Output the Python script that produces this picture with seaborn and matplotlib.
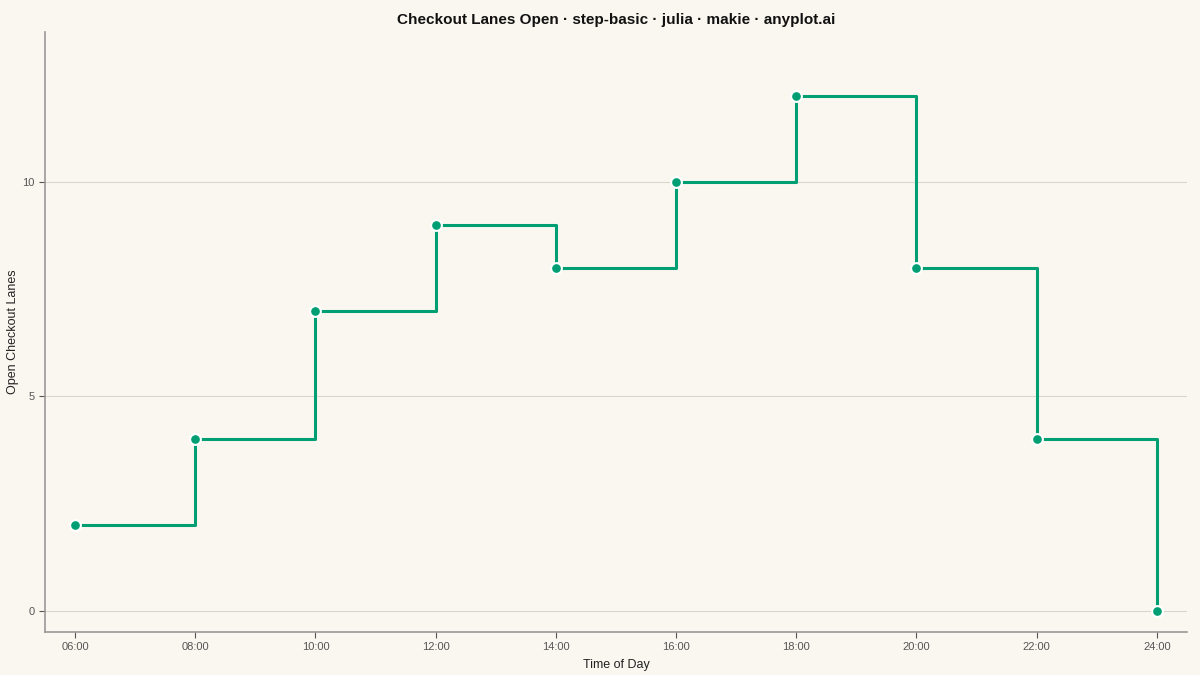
import pandas as pd
import matplotlib
matplotlib.use("Agg")
import matplotlib.pyplot as plt
import seaborn as sns

# Datos: carriles abiertos por hora del día
hours = [6, 8, 10, 12, 14, 16, 18, 20, 22, 24]
lanes_open = [2, 4, 7, 9, 8, 10, 12, 8, 4, 0]
tick_labels = ["06:00", "08:00", "10:00", "12:00", "14:00",
               "16:00", "18:00", "20:00", "22:00", "24:00"]

bg = "#FAF7F0"
green = "#009E73"

sns.set_theme(style="white")
plt.rcParams["font.family"] = ["Liberation Sans", "DejaVu Sans"]

df = pd.DataFrame({"hour": hours, "lanes": lanes_open})

fig = plt.figure(figsize=(12, 6.75), dpi=100, facecolor=bg)
ax = fig.add_axes([0.0375, 0.0637, 0.9515, 0.8889])
ax.set_facecolor(bg)

sns.lineplot(data=df, x="hour", y="lanes", ax=ax, color=green,
             linewidth=2.2, drawstyle="steps-post", zorder=3)
sns.scatterplot(data=df, x="hour", y="lanes", ax=ax, color=green,
                s=60, edgecolor="white", linewidth=1.5, zorder=4)

ax.set_xlim(5.5, 24.5)
ax.set_ylim(-0.5, 13.5)
ax.set_xticks(hours)
ax.set_xticklabels(tick_labels)
ax.set_yticks([0, 5, 10])

ax.yaxis.grid(True, color="#D9D6D0", linewidth=0.8)
ax.xaxis.grid(False)
ax.set_axisbelow(True)

for side in ["top", "right"]:
    ax.spines[side].set_visible(False)
for side in ["left", "bottom"]:
    ax.spines[side].set_color("#999999")
    ax.spines[side].set_linewidth(1.2)

ax.tick_params(axis="both", labelsize=8, colors="#555555", length=4,
               width=0.8, left=True, bottom=True)
ax.set_xlabel("Time of Day", fontsize=9, color="#222222", labelpad=5)
ax.set_ylabel("Open Checkout Lanes", fontsize=9, color="#222222", labelpad=2)
ax.set_title("Checkout Lanes Open · step-basic · julia · makie · anyplot.ai",
             fontsize=11, fontweight="bold", color="#111111", pad=6)

fig.savefig("out.png", dpi=100, facecolor=bg)
plt.close(fig)
